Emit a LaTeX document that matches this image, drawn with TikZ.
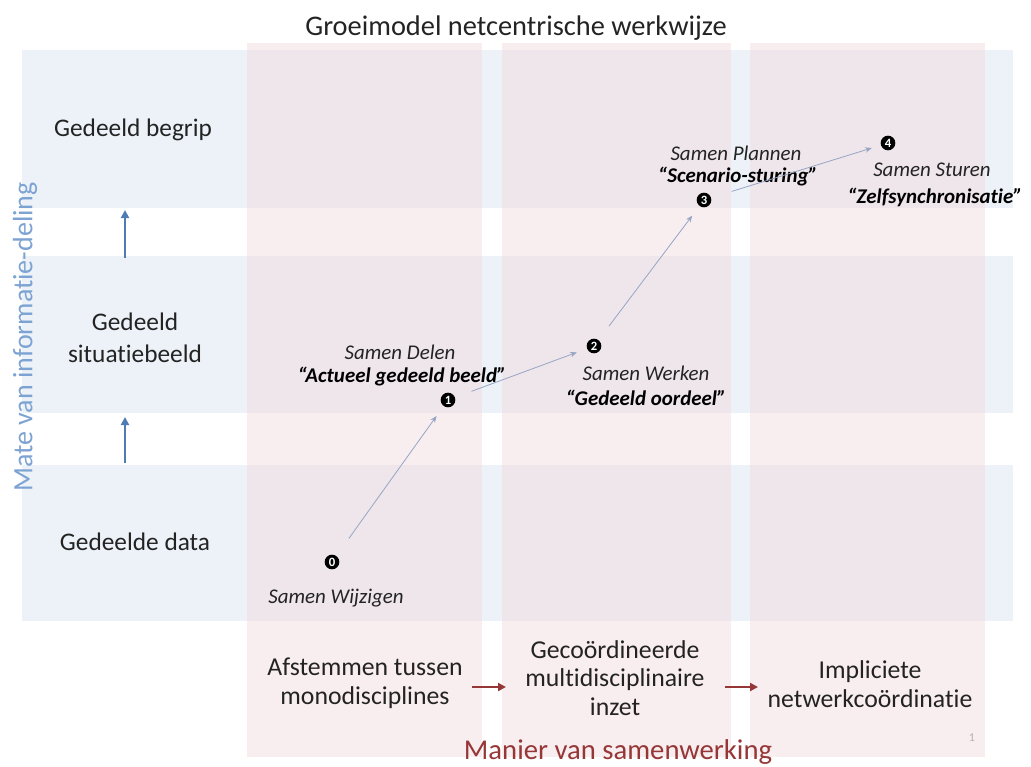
\documentclass[tikz,border=0pt]{standalone}
\usepackage{fontspec}
\setmainfont{Carlito}[Ligatures=NoCommon]
\usetikzlibrary{arrows.meta}
\definecolor{bandblue}{RGB}{236,242,248}
\definecolor{colpink}{RGB}{242,221,225}
\definecolor{matblue}{RGB}{79,124,180}
\definecolor{labblue}{RGB}{125,163,210}
\definecolor{donkerrood}{RGB}{150,55,55}
\definecolor{lijn}{RGB}{150,165,195}
\definecolor{tekst}{RGB}{35,35,35}
\begin{document}
\begin{tikzpicture}[x=0.75pt,y=-0.75pt,
	band/.style={fill=bandblue,draw=none},
	kolom/.style={fill=colpink,fill opacity=0.53,draw=none},
	niveau/.style={font=\fontsize{19}{24}\selectfont,text=tekst,align=center},
	stap/.style={circle,fill=black,text=white,inner sep=0pt,minimum size=11pt,font=\fontsize{9.5}{10}\selectfont\bfseries},
	naam/.style={font=\fontsize{15.7}{18}\selectfont\itshape,text=tekst},
	motto/.style={font=\fontsize{15.7}{18}\selectfont\bfseries\itshape,text=black},
	groei/.style={-{Stealth[length=5pt,width=4pt]},draw=lijn,line width=0.6pt},
	omhoog/.style={-{Triangle[length=6pt,width=6pt]},draw=matblue,line width=2pt},
	verder/.style={-{Triangle[length=6pt,width=6pt]},draw=donkerrood,line width=2pt},
	wijze/.style={font=\fontsize{19.3}{21.5}\selectfont,text=tekst,align=center}]
	\useasboundingbox (0,0) rectangle (1031,767);
	% banden en kolommen
	\foreach \ya/\yb in {50/208,256/413,465/621}
		\fill[band] (22,\ya) rectangle (1013,\yb);
	\foreach \xa/\xb in {247/482,502/731,750/985}
		\fill[kolom] (\xa,43) rectangle (\xb,757);
	\node[font=\fontsize{21.3}{25}\selectfont,text=tekst] (titel) at (516,28) {Groeimodel netcentrische werkwijze};
	% mate van informatie-deling
	\node[niveau] (begrip) at (133,130) {Gedeeld begrip};
	\node[niveau] (situatie) at (135,338) {Gedeeld\\situatiebeeld};
	\node[niveau] (data) at (135,542) {Gedeelde data};
	\node[rotate=90,font=\fontsize{21}{24}\selectfont,text=labblue] (mate) at (25,337) {Mate van informatie-deling};
	\coordinate (o1) at (125,258); \coordinate (o1e) at (125,210);
	\coordinate (o2) at (125,463); \coordinate (o2e) at (125,417);
	\draw[omhoog] (o1) -- (o1e);
	\draw[omhoog] (o2) -- (o2e);
	% stappen
	\node[stap] (s0) at (332,562) {0};
	\node[stap] (s1) at (448,400) {1};
	\node[stap] (s2) at (594,346) {2};
	\node[stap] (s3) at (704,200) {3};
	\node[stap] (s4) at (888,143) {4};
	\node[naam] (n0) at (336,598) {Samen Wijzigen};
	\node[naam] (n1) at (400,352) {Samen Delen};
	\node[motto] (m1) at (402,377) {“Actueel gedeeld beeld”};
	\node[naam] (n2) at (646,373) {Samen Werken};
	\node[motto] (m2) at (646,398) {“Gedeeld oordeel”};
	\node[naam] (n3) at (736,153) {Samen Plannen};
	\node[motto] (m3) at (738,177) {“Scenario-sturing”};
	\node[naam] (n4) at (932,170) {Samen Sturen};
	\node[motto] (m4) at (935,197) {“Zelfsynchronisatie”};
	\draw[groei,shorten <=16pt,shorten >=9pt] (s0) -- (s1);
	\draw[groei,shorten <=13pt,shorten >=8pt] (s1) -- (s2);
	\draw[groei,shorten <=13pt,shorten >=9pt] (s2) -- (s3);
	\draw[groei,shorten <=16pt,shorten >=7pt] (s3) -- (s4);
	% manier van samenwerking
	\node[wijze] (w1) at (365,683) {Afstemmen tussen\\monodisciplines};
	\node[wijze] (w2) at (615,678) {Gecoördineerde\\multidisciplinaire\\inzet};
	\node[wijze] (w3) at (870,684) {Impliciete\\netwerkcoördinatie};
	\coordinate (r1) at (472,687); \coordinate (r1e) at (506,687);
	\coordinate (r2) at (725,687); \coordinate (r2e) at (758,687);
	\draw[verder] (r1) -- (r1e);
	\draw[verder] (r2) -- (r2e);
	\node[font=\fontsize{21.5}{24}\selectfont,text=donkerrood] (manier) at (618,752) {Manier van samenwerking};
	\node[font=\fontsize{9}{10}\selectfont,text=gray!60] (blad) at (972,738) {1};
\end{tikzpicture}
\end{document}
